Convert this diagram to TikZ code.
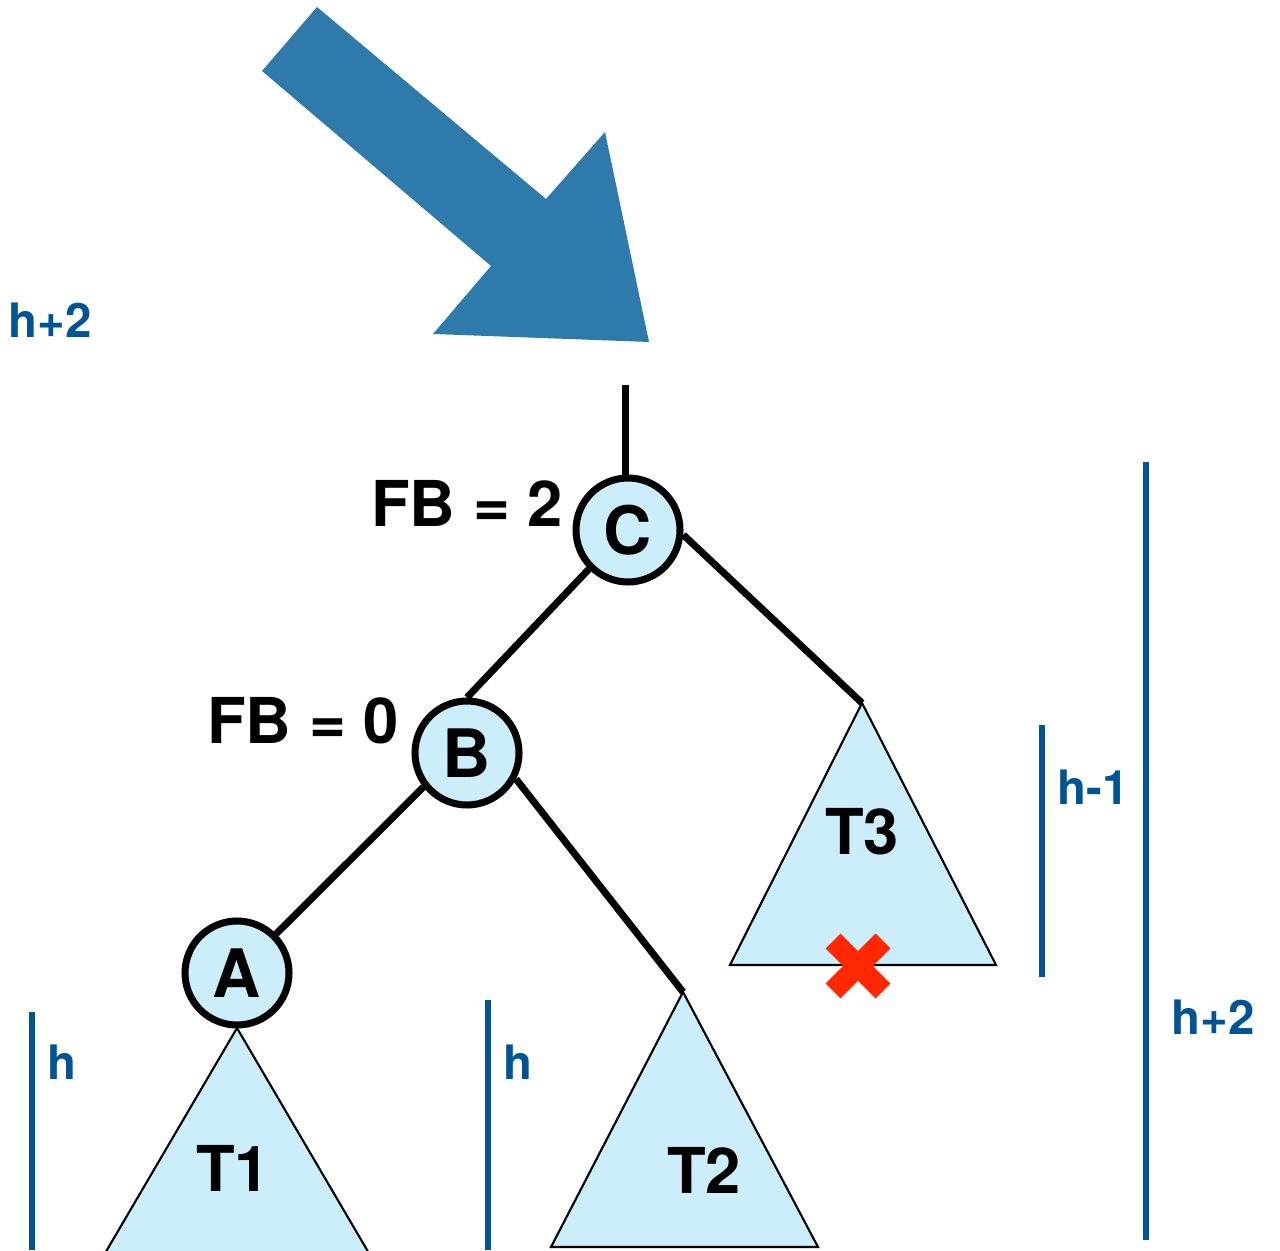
\documentclass[tikz,border=0pt]{standalone}
\usepackage{fontspec}
\setmainfont{TeX Gyre Heros}
\usepackage{tikz}
\usetikzlibrary{arrows.meta,positioning,calc}
\definecolor{bigarrow}{RGB}{46,123,171}
\definecolor{hblue}{RGB}{0,84,147}
\definecolor{treefill}{RGB}{204,238,250}
\definecolor{crossred}{RGB}{255,40,0}

\begin{document}
\begin{tikzpicture}[
  avl/.style={circle,draw=black,line width=2pt,fill=treefill,minimum size=1.04cm,inner sep=0pt,font=\fontsize{19}{19}\bfseries\selectfont},
  sub/.style={draw=black,line width=0.6pt,fill=treefill},
  sublab/.style={font=\fontsize{18}{18}\bfseries\selectfont},
  fblab/.style={font=\fontsize{18}{18}\bfseries\selectfont},
  hlab/.style={text=hblue,font=\fontsize{13.5}{13.5}\bfseries\selectfont},
  hbar/.style={draw=hblue,line width=1.6pt},
  link/.style={draw=black,line width=2pt}]
\useasboundingbox (0,0) rectangle (12.8,12.5);
% big arrow
\fill[bigarrow] (3.17,12.43)--(2.62,11.79)--(4.91,9.84)--(4.33,9.16)--(6.49,9.08)--(6.05,11.18)--(5.46,10.51)--cycle;
\node[hlab] (hfull) at (0.50,9.30) {h+2};
% subtrees
\coordinate (t1top) at (2.37,2.22);
\coordinate (t2top) at (6.83,2.58);
\coordinate (t3top) at (8.62,5.47);
\path[sub] (t1top)--(1.04,-0.05)--(3.70,-0.05)--cycle;
\path[sub] (t2top)--(5.51,0.03)--(8.18,0.03)--cycle;
\path[sub] (t3top)--(7.30,2.85)--(9.96,2.85)--cycle;
\node[sublab] (T1) at (2.33,0.82) {T1};
\node[sublab] (T2) at (7.04,0.80) {T2};
\node[sublab] (T3) at (8.62,4.18) {T3};
% nodes
\coordinate (top) at (6.25,8.65);
\node[avl] (C) at (6.28,7.20) {C};
\node[avl] (B) at (4.67,4.97) {B};
\node[avl] (A) at (2.37,2.77) {A};
\node[fblab] (fbC) at (4.67,7.47) {FB = 2};
\node[fblab] (fbB) at (3.03,5.29) {FB = 0};
\foreach \a/\b in {C.225/B.north,B.218/A.45,B.-28/t2top,C.-5/t3top} \draw[link] (\a)--(\b);
\draw[link] (top)--([yshift=-0.07cm]top |- C.north);
% removed leaf
\draw[crossred,line width=6pt] (8.33,2.59)--(8.83,3.09) (8.33,3.09)--(8.83,2.59);
% heights
\draw[hbar] (0.32,0)--(0.32,2.38);
\node[hlab] (h1) at (0.62,1.88) {h};
\draw[hbar] (4.88,0)--(4.88,2.50);
\node[hlab] (h2) at (5.18,1.88) {h};
\draw[hbar] (10.42,2.73)--(10.42,5.25);
\node[hlab] (h3) at (10.93,4.63) {h-1};
\draw[hbar] (11.46,0.10)--(11.46,7.88);
\node[hlab] (h4) at (12.13,2.33) {h+2};
\end{tikzpicture}
\end{document}
